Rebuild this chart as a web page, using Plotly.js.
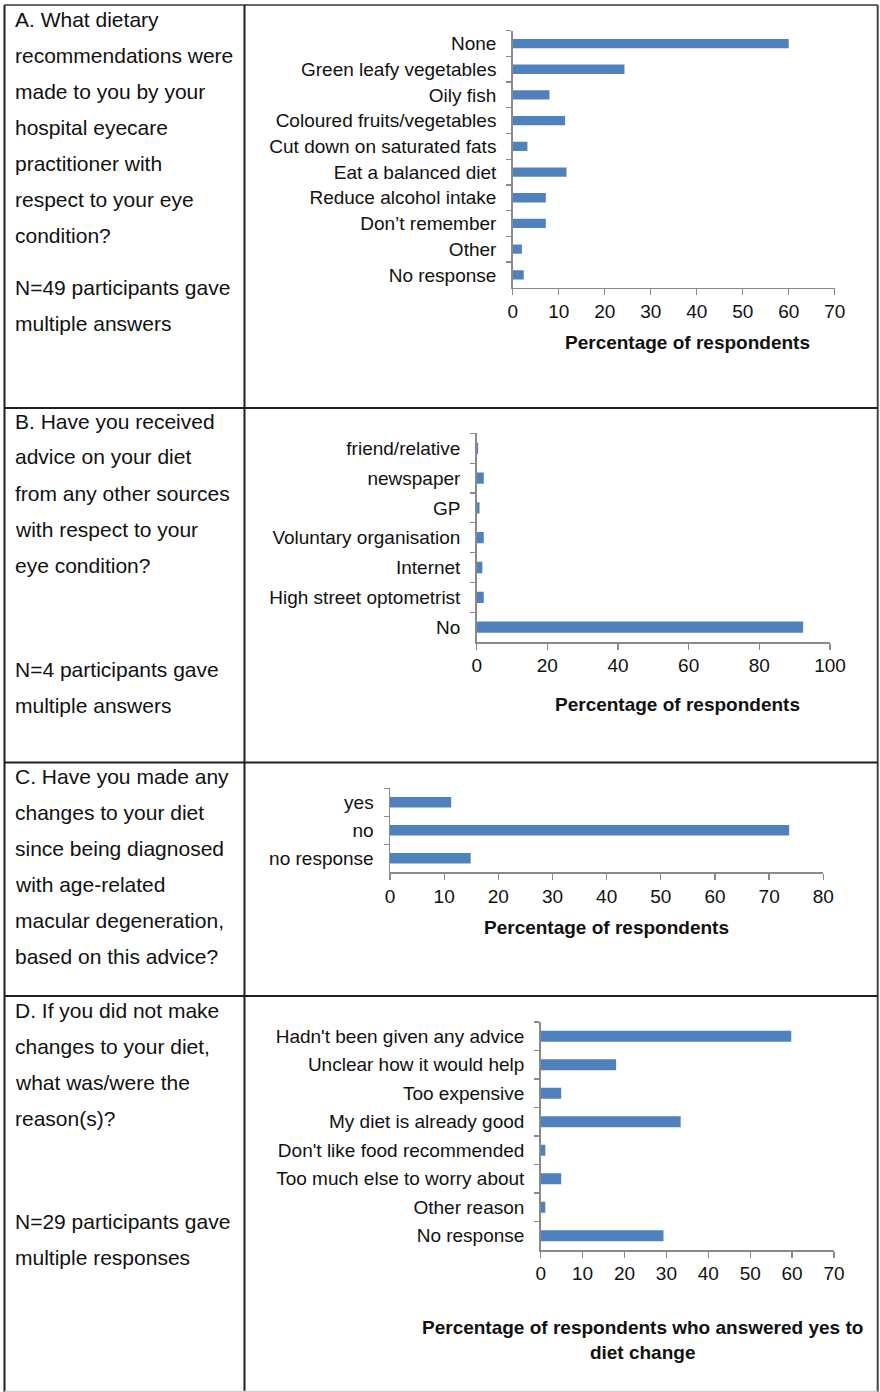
<!DOCTYPE html>
<html>
<head>
<meta charset="utf-8">
<script src="https://cdn.plot.ly/plotly-3.0.1.min.js"></script>
<style>
html,body{margin:0;padding:0;background:#fff;}
#chart{width:880px;height:1392px;}
</style>
</head>
<body>
<div id="chart"></div>
<script>
// ---------- DATA ----------
const catsA = ["None","Green leafy vegetables","Oily fish","Coloured fruits/vegetables","Cut down on saturated fats","Eat a balanced diet","Reduce alcohol intake","Don\u2019t remember","Other","No response"];
const valsA = [60.0, 24.3, 8.0, 11.4, 3.2, 11.7, 7.2, 7.2, 2.0, 2.4];

const catsB = ["friend/relative","newspaper","GP","Voluntary organisation","Internet","High street optometrist","No"];
const valsB = [0.4, 2.0, 0.8, 2.0, 1.6, 2.0, 92.4];

const catsC = ["yes","no","no response"];
const valsC = [11.3, 73.7, 14.9];

const catsD = ["Hadn't been given any advice","Unclear how it would help","Too expensive","My diet is already good","Don't like food recommended","Too much else to worry about","Other reason","No response"];
const valsD = [59.8, 18.0, 4.9, 33.4, 1.1, 4.9, 1.1, 29.3];

const ticksA = [0,10,20,30,40,50,60,70];
const ticksB = [0,20,40,60,80,100];
const ticksC = [0,10,20,30,40,50,60,70,80];
const ticksD = [0,10,20,30,40,50,60,70];

const questionA = ["A. What dietary","recommendations were","made to you by your","hospital eyecare","practitioner with","respect to your eye","condition?"];
const noteA = ["N=49 participants gave","multiple answers"];
const questionB = ["B. Have you received","advice on your diet","from any other sources","with respect to your","eye condition?"];
const noteB = ["N=4 participants gave","multiple answers"];
const questionC = ["C. Have you made any","changes to your diet","since being diagnosed","with age-related","macular degeneration,","based on this advice?"];
const questionD = ["D. If you did not make","changes to your diet,","what was/were the","reason(s)?"];
const noteD = ["N=29 participants gave","multiple responses"];

const xTitleABC = "Percentage of respondents";
const xTitleD = "Percentage of respondents who answered yes to<br>diet change";

// ---------- LAYOUT HELPERS ----------
const W = 880, H = 1392;
const px = v => v / W;
const py = v => 1 - v / H;
const FONT = "Arial, 'Liberation Sans', sans-serif";
const BAR = "#4F81BD";
const AXC = "#8a8a8a";
const TXT = "#111111";

const panels = [
  {cats: catsA, vals: valsA, ticks: ticksA, x0: 512.7, x1: 834.7, y0: 30.7, y1: 287.7, w: 0.36, title: xTitleABC, titleX: 687.5, titleY: 342},
  {cats: catsB, vals: valsB, ticks: ticksB, x0: 476.7, x1: 830, y0: 433.4, y1: 642, w: 0.38, title: xTitleABC, titleX: 677.5, titleY: 704},
  {cats: catsC, vals: valsC, ticks: ticksC, x0: 390, x1: 823.3, y0: 788.3, y1: 872.3, w: 0.38, title: xTitleABC, titleX: 606.5, titleY: 927},
  {cats: catsD, vals: valsD, ticks: ticksD, x0: 540.7, x1: 834, y0: 1022, y1: 1250, w: 0.39, title: xTitleD, titleX: 642.5, titleY: 1340}
];

const data = [];
const layout = {
  width: W, height: H,
  margin: {l: 0, r: 0, t: 0, b: 0, pad: 0},
  paper_bgcolor: "#fff", plot_bgcolor: "rgba(0,0,0,0)",
  showlegend: false,
  font: {family: FONT, color: TXT, size: 19},
  shapes: [], annotations: []
};

panels.forEach((p, i) => {
  const n = i === 0 ? "" : String(i + 1);
  const xa = "x" + n, ya = "y" + n;
  data.push({
    type: "bar", orientation: "h",
    x: p.vals, y: p.cats, width: p.w,
    marker: {color: BAR, line: {width: 0}},
    xaxis: xa, yaxis: ya, hoverinfo: "none"
  });
  layout["xaxis" + n] = {
    domain: [px(p.x0), px(p.x1)], anchor: ya,
    range: [0, p.ticks[p.ticks.length - 1]],
    tickmode: "array", tickvals: p.ticks, ticktext: p.ticks.map(String),
    ticks: "outside", ticklen: 6, tickwidth: 1.3, tickcolor: AXC,
    showline: true, linecolor: AXC, linewidth: 1.5,
    showgrid: false, zeroline: false,
    tickfont: {family: FONT, size: 19, color: TXT},
    fixedrange: true
  };
  layout["yaxis" + n] = {
    domain: [py(p.y1), py(p.y0)], anchor: xa,
    type: "category", categoryorder: "array", categoryarray: p.cats,
    autorange: "reversed",
    ticks: "outside", tickson: "boundaries", ticklen: 5, tickwidth: 1.3, tickcolor: AXC,
    showline: true, linecolor: AXC, linewidth: 1.5,
    showgrid: false, zeroline: false,
    tickfont: {family: FONT, size: 19, color: TXT},
    ticklabelstandoff: 11,
    fixedrange: true
  };
  layout.annotations.push({
    xref: "paper", yref: "paper", x: px(p.titleX), y: py(p.titleY),
    xanchor: "center", yanchor: "middle", showarrow: false,
    text: "<b>" + p.title + "</b>", align: "center",
    font: {family: FONT, size: 19, color: TXT}
  });
});

// Left column texts
function addLines(lines, startY, step) {
  lines.forEach((t, k) => {
    layout.annotations.push({
      xref: "paper", yref: "paper", x: px(13), y: py(startY + k * step),
      xanchor: "left", yanchor: "middle", showarrow: false, text: t,
      font: {family: FONT, size: 21, color: TXT}
    });
  });
}
addLines(questionA, 19, 36);
addLines(noteA, 288, 36);
addLines(questionB, 421, 36);
addLines(noteB, 669, 36);
addLines(questionC, 776, 36);
addLines(questionD, 1010, 36);
addLines(noteD, 1221, 36);

// Table borders
const DARK = "#1e1e1e";
function line(x0, y0, x1, y1, color, w) {
  layout.shapes.push({type: "line", xref: "paper", yref: "paper",
    x0: px(x0), y0: py(y0), x1: px(x1), y1: py(y1),
    line: {color: color, width: w}});
}
line(4.5, 5, 877.7, 5, "#6a6a6a", 2);
line(4.5, 5, 4.5, 1392, DARK, 2);
line(244.5, 5, 244.5, 1392, DARK, 2);
line(877.7, 5, 877.7, 1392, "#444", 2);
line(4.5, 408, 877.7, 408, DARK, 2);
line(4.5, 762.5, 877.7, 762.5, DARK, 2);
line(4.5, 996, 877.7, 996, DARK, 2);
line(4.5, 1391.5, 877.7, 1391.5, "#cfcfcf", 1.5);

Plotly.newPlot("chart", data, layout, {staticPlot: true, displayModeBar: false});
</script>
</body>
</html>
